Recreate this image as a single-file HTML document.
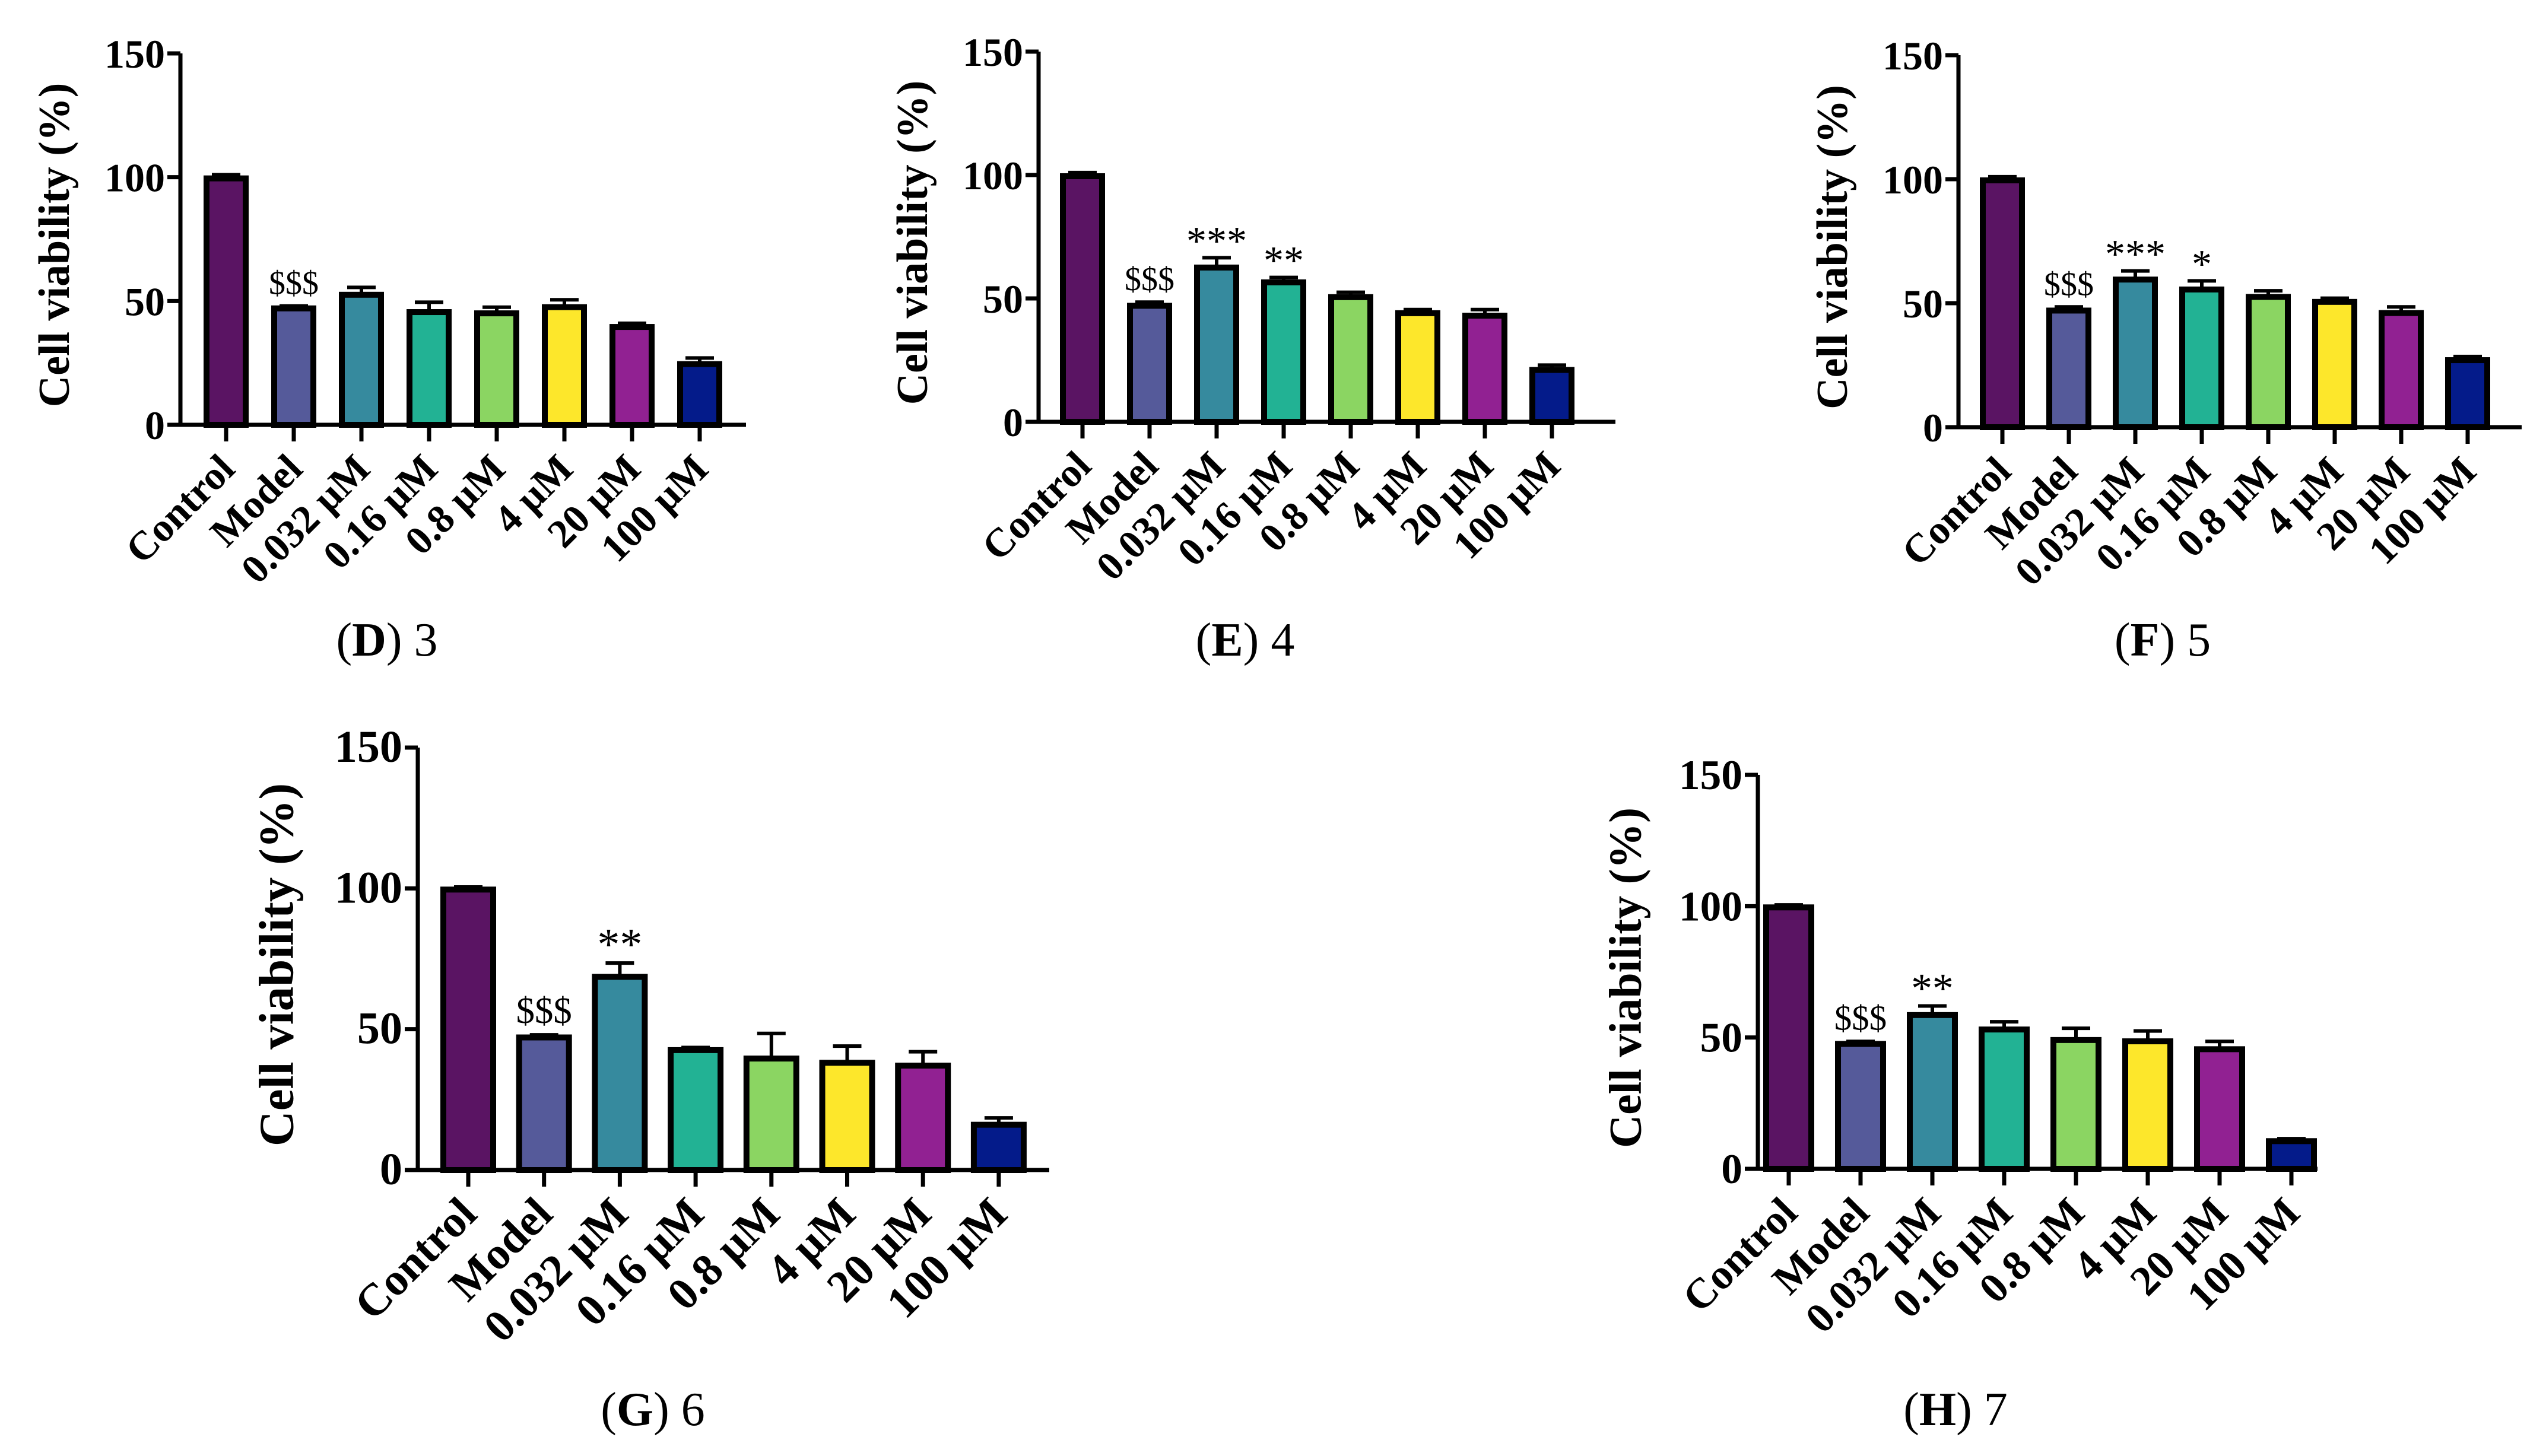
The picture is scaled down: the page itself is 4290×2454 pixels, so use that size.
<!DOCTYPE html>
<html><head><meta charset="utf-8"><style>
html,body{margin:0;padding:0;background:#fff;}
svg{display:block;}
text{font-family:"Liberation Serif",serif;}
</style></head><body>
<svg id="fig" width="4290" height="2454" viewBox="0 0 4290 2454" xmlns="http://www.w3.org/2000/svg"></svg>
<script>
const categories=["Control","Model","0.032 μM","0.16 μM","0.8 μM","4 μM","20 μM","100 μM"];
const colors=["#5a1463","#555a9a","#368a9e","#22b294","#8bd562","#fde72b","#912192","#041b8a"];
const yTicks=[0,50,100,150];
const valuesD=[100,47.5,53,46,45.5,48,40,25];
const errD=[1,0.5,2.5,3.5,2,2.5,1,2];
const annD=["","$$$","","","","","",""];
const valuesE=[100,47.5,63,57,51,44.5,43.5,21.5];
const errE=[1,1,3.5,1.5,1.5,1,2,1.5];
const annE=["","$$$","***","**","","","",""];
const valuesF=[100,47.5,60,56,53,51,46.5,27.5];
const errF=[1,1,3,3,2,1,2,1];
const annF=["","$$$","***","*","","","",""];
const valuesG=[100,47.5,69,43,40,38.5,37.5,16.5];
const errG=[0.5,0.5,4.5,0.5,8.5,5.5,4.5,2];
const annG=["","$$$","**","","","","",""];
const valuesH=[100,48,59,53.5,49.5,49,46,11];
const errH=[0.5,0.5,3,2.5,4,3.5,2.5,0.5];
const annH=["","$$$","**","","","","",""];

const NS="http://www.w3.org/2000/svg";
const svg=document.getElementById('fig');
function mk(tag,attrs,parent,txt){const e=document.createElementNS(NS,tag);for(const k in attrs)e.setAttribute(k,attrs[k]);if(txt!==undefined)e.textContent=txt;(parent||svg).appendChild(e);return e;}

const panels=[
 {id:"d",ax:304,y150:90,y0:716,xend:1257,first:381,step:114,bw:76,fs:1,vals:valuesD,err:errD,ann:annD,cap:"D",num:"3",cx:652,cy:1105},
 {id:"e",ax:1750,y150:87,y0:711,xend:2722,first:1824,step:113,bw:76,fs:1,vals:valuesE,err:errE,ann:annE,cap:"E",num:"4",cx:2098,cy:1105},
 {id:"f",ax:3300,y150:93,y0:720,xend:4249,first:3374,step:112,bw:76,fs:1,vals:valuesF,err:errF,ann:annF,cap:"F",num:"5",cx:3644,cy:1105},
 {id:"g",ax:704,y150:1260,y0:1972,xend:1768,first:789,step:127.7,bw:94,fs:1.12,vals:valuesG,err:errG,ann:annG,cap:"G",num:"6",cx:1100,cy:2402},
 {id:"h",ax:2962,y150:1306,y0:1970,xend:3905,first:3014,step:121,bw:86,fs:1.05,vals:valuesH,err:errH,ann:annH,cap:"H",num:"7",cx:3295,cy:2402}
];

panels.forEach(p=>{
  const g=mk('g',{});
  
  
  const y=v=>p.y0-(p.y0-p.y150)*v/150;
  const x=i=>p.first+p.step*i;
  p.vals.forEach((v,i)=>{
    const r=mk('rect',{x:x(i)-p.bw/2+5,y:y(v)+2,width:p.bw-10,height:p.y0-y(v)-2,fill:colors[i],stroke:"#000","stroke-width":10},g);
    
    
    const top=y(v+p.err[i]);
    const eb=mk('path',{d:`M${x(i)} ${y(v)} V${top} M${x(i)-24} ${top} H${x(i)+24}`,stroke:"#000","stroke-width":6,fill:"none"},g);
    
    
    if(p.ann[i]){
      const t=mk('text',{x:x(i),y:top-(p.ann[i][0]==='*'?6:20),"text-anchor":"middle","font-size":(p.ann[i][0]==='*'?68:56)*p.fs},g,p.ann[i]);
      
      
    }
    mk('line',{x1:x(i),y1:p.y0,x2:x(i),y2:p.y0+28,stroke:"#000","stroke-width":7},g);
    const lab=mk('text',{x:0,y:0,"text-anchor":"end","font-size":68*p.fs,"font-weight":"bold",transform:`translate(${x(i)+18},${p.y0+78}) rotate(-45)`},g,categories[i]);
    
    
  });
  const axes=mk('path',{d:`M${p.ax} ${p.y150} V${p.y0} M${p.ax-22} ${p.y0} H${p.xend}`,stroke:"#000","stroke-width":7,fill:"none"},g);
  
  
  yTicks.forEach(t=>{
    mk('line',{x1:p.ax-22,y1:y(t),x2:p.ax,y2:y(t),stroke:"#000","stroke-width":7},g);
    const tl=mk('text',{x:p.ax-26,y:y(t)+24,"text-anchor":"end","font-size":68*p.fs,"font-weight":"bold"},g,String(t));
    
    
  });
  const mid=(p.y150+p.y0)/2;
  const yt=mk('text',{x:0,y:0,"text-anchor":"middle","font-size":74*p.fs,"font-weight":"bold",transform:`translate(${p.ax-188*p.fs},${mid+10}) rotate(-90)`},g,"Cell viability (%)");
  
  
  const cap=mk('text',{x:p.cx,y:p.cy,"text-anchor":"middle","font-size":80},g);
  
  
  mk('tspan',{},cap,"(");
  mk('tspan',{"font-weight":"bold"},cap,p.cap);
  mk('tspan',{},cap,") "+p.num);
});
</script>
</body></html>
